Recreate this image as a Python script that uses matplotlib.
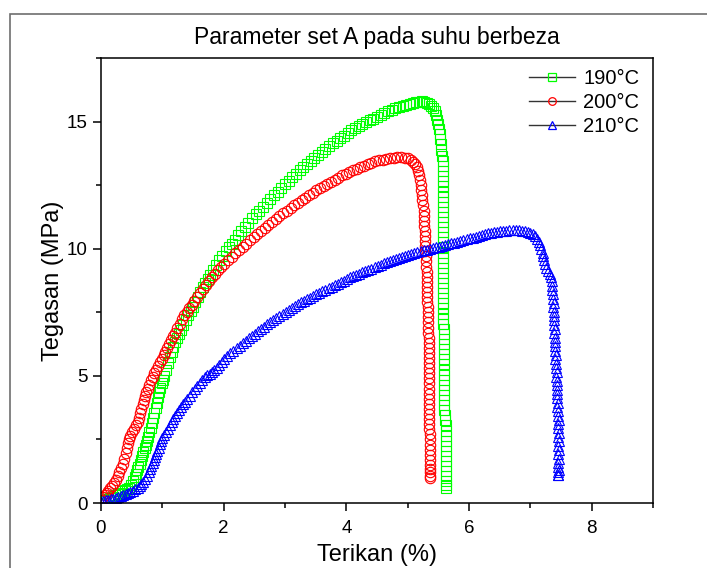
import numpy as np
import matplotlib
matplotlib.use("Agg")
import matplotlib.pyplot as plt
from matplotlib.lines import Line2D
from matplotlib.patches import Rectangle
from matplotlib.ticker import MultipleLocator

plt.rcParams["font.family"] = ["Liberation Sans", "DejaVu Sans"]

labels = ["190°C", "200°C", "210°C"]
colors = ["#00ff00", "#ff0000", "#0000ff"]
markers = ["s", "o", "^"]

# (strain %, stress MPa)
pts190 = [
    (0.03, 0.08), (0.07, 0.12), (0.11, 0.16), (0.15, 0.20), (0.19, 0.24), (0.23, 0.30),
    (0.27, 0.35), (0.31, 0.41), (0.35, 0.47), (0.39, 0.51), (0.43, 0.55), (0.46, 0.60),
    (0.49, 0.70), (0.52, 0.85), (0.55, 1.02), (0.57, 1.15), (0.59, 1.28), (0.61, 1.42),
    (0.63, 1.55), (0.65, 1.70), (0.67, 1.85), (0.69, 2.00), (0.71, 2.15), (0.73, 2.30),
    (0.75, 2.45), (0.77, 2.60), (0.79, 2.78), (0.81, 2.95), (0.83, 3.15), (0.85, 3.35),
    (0.87, 3.55), (0.89, 3.75), (0.91, 3.95), (0.93, 4.15), (0.95, 4.35), (0.97, 4.52),
    (0.99, 4.70), (1.01, 4.85), (1.03, 5.00), (1.06, 5.25), (1.09, 5.50), (1.12, 5.75),
    (1.15, 5.95), (1.18, 6.15), (1.21, 6.33), (1.24, 6.50), (1.27, 6.65), (1.30, 6.80),
    (1.34, 7.00), (1.38, 7.20), (1.42, 7.40), (1.46, 7.55), (1.50, 7.72), (1.54, 7.90),
    (1.58, 8.10), (1.62, 8.30), (1.66, 8.48), (1.70, 8.65), (1.74, 8.82), (1.78, 8.98),
    (1.83, 9.18), (1.88, 9.37), (1.93, 9.55), (1.98, 9.73), (2.03, 9.90), (2.08, 10.05),
    (2.13, 10.20), (2.18, 10.35), (2.23, 10.52), (2.28, 10.68), (2.34, 10.85), (2.40, 11.02),
    (2.46, 11.20), (2.52, 11.35), (2.58, 11.50), (2.64, 11.65), (2.70, 11.80), (2.76, 11.95),
    (2.82, 12.10), (2.88, 12.25), (2.94, 12.40), (3.00, 12.55), (3.06, 12.68), (3.12, 12.82),
    (3.18, 12.95), (3.24, 13.08), (3.30, 13.20), (3.36, 13.33), (3.42, 13.46), (3.48, 13.58),
    (3.54, 13.70), (3.60, 13.82), (3.66, 13.94), (3.72, 14.05), (3.78, 14.15), (3.84, 14.25),
    (3.90, 14.35), (3.96, 14.45), (4.02, 14.55), (4.08, 14.65), (4.14, 14.74), (4.20, 14.82),
    (4.26, 14.90), (4.32, 14.98), (4.38, 15.05), (4.44, 15.12), (4.50, 15.19), (4.56, 15.26),
    (4.62, 15.33), (4.68, 15.40), (4.74, 15.46), (4.80, 15.52), (4.86, 15.57), (4.92, 15.62),
    (4.98, 15.66), (5.04, 15.70), (5.09, 15.73), (5.14, 15.76), (5.19, 15.78), (5.23, 15.79),
    (5.27, 15.78), (5.31, 15.75), (5.35, 15.70), (5.38, 15.62), (5.41, 15.52), (5.44, 15.40),
    (5.46, 15.25), (5.48, 15.08), (5.50, 14.90), (5.51, 14.70), (5.52, 14.50), (5.53, 14.30),
    (5.54, 14.10), (5.55, 13.90), (5.56, 13.65),
    (5.57, 13.45), (5.57, 13.25), (5.57, 13.05), (5.57, 12.85), (5.57, 12.65), (5.57, 12.45),
    (5.57, 12.25), (5.57, 12.05), (5.57, 11.85), (5.57, 11.65), (5.57, 11.45), (5.57, 11.25),
    (5.57, 11.05), (5.57, 10.85), (5.57, 10.65), (5.57, 10.45), (5.57, 10.25), (5.57, 10.05),
    (5.57, 9.85), (5.57, 9.65), (5.57, 9.45), (5.57, 9.25), (5.57, 9.05), (5.57, 8.85),
    (5.57, 8.65), (5.57, 8.45), (5.57, 8.25), (5.57, 8.05), (5.58, 7.85), (5.58, 7.65),
    (5.58, 7.45), (5.58, 7.25), (5.58, 7.05),
    (5.59, 6.85), (5.59, 6.65), (5.59, 6.45), (5.59, 6.25), (5.59, 6.05), (5.59, 5.85),
    (5.59, 5.65), (5.59, 5.45), (5.59, 5.25), (5.59, 5.05), (5.60, 4.85), (5.60, 4.65),
    (5.60, 4.45), (5.60, 4.25), (5.60, 4.05), (5.60, 3.85), (5.60, 3.65),
    (5.61, 3.45), (5.61, 3.25), (5.62, 3.05), (5.62, 2.85), (5.62, 2.65), (5.62, 2.45),
    (5.62, 2.25), (5.62, 2.05), (5.62, 1.85), (5.62, 1.65), (5.62, 1.45), (5.62, 1.25),
    (5.62, 1.05), (5.62, 0.85), (5.62, 0.70), (5.62, 0.60),
]

pts200 = [
    (0.00, 0.10), (0.03, 0.22), (0.06, 0.32), (0.09, 0.40), (0.12, 0.48), (0.15, 0.58),
    (0.18, 0.68), (0.21, 0.78), (0.24, 0.90), (0.27, 1.05), (0.30, 1.20), (0.33, 1.38),
    (0.36, 1.55), (0.38, 1.75), (0.40, 1.95), (0.42, 2.15), (0.44, 2.35), (0.46, 2.52),
    (0.48, 2.65), (0.51, 2.80), (0.54, 2.92), (0.57, 3.05), (0.60, 3.20), (0.62, 3.35),
    (0.64, 3.52), (0.66, 3.70), (0.68, 3.88), (0.70, 4.05), (0.72, 4.20), (0.74, 4.35),
    (0.76, 4.50), (0.78, 4.65), (0.81, 4.82), (0.84, 4.97), (0.87, 5.10), (0.90, 5.25),
    (0.93, 5.40), (0.96, 5.55), (0.99, 5.68), (1.02, 5.82), (1.05, 5.95), (1.08, 6.10),
    (1.11, 6.25), (1.14, 6.40), (1.17, 6.55), (1.20, 6.70), (1.24, 6.88), (1.28, 7.05),
    (1.32, 7.22), (1.36, 7.38), (1.40, 7.53), (1.44, 7.67), (1.48, 7.80), (1.52, 7.95),
    (1.56, 8.10), (1.61, 8.27), (1.66, 8.43), (1.71, 8.58), (1.76, 8.73), (1.81, 8.88),
    (1.86, 9.02), (1.91, 9.15), (1.96, 9.28), (2.01, 9.40), (2.07, 9.54), (2.13, 9.68),
    (2.19, 9.82), (2.25, 9.95), (2.31, 10.08), (2.37, 10.20), (2.43, 10.33), (2.49, 10.45),
    (2.55, 10.57), (2.61, 10.69), (2.67, 10.81), (2.73, 10.93), (2.79, 11.05), (2.85, 11.17),
    (2.91, 11.28), (2.97, 11.39), (3.03, 11.50), (3.09, 11.61), (3.15, 11.71), (3.21, 11.81),
    (3.27, 11.91), (3.33, 12.01), (3.39, 12.11), (3.45, 12.20), (3.51, 12.29), (3.57, 12.38),
    (3.63, 12.47), (3.69, 12.56), (3.75, 12.64), (3.81, 12.72), (3.87, 12.80), (3.93, 12.88),
    (3.99, 12.95), (4.05, 13.02), (4.11, 13.09), (4.17, 13.15), (4.23, 13.21), (4.29, 13.27),
    (4.35, 13.33), (4.41, 13.38), (4.47, 13.43), (4.53, 13.47), (4.59, 13.50), (4.65, 13.53),
    (4.71, 13.56), (4.77, 13.58), (4.83, 13.59), (4.89, 13.59), (4.95, 13.58), (5.00, 13.55),
    (5.05, 13.50), (5.09, 13.42), (5.12, 13.32), (5.15, 13.20), (5.17, 13.05), (5.19, 12.88),
    (5.20, 12.70), (5.21, 12.50), (5.22, 12.30), (5.23, 12.10), (5.24, 11.90), (5.25, 11.70),
    (5.26, 11.50), (5.26, 11.30), (5.27, 11.10), (5.27, 10.90), (5.28, 10.70), (5.28, 10.50),
    (5.29, 10.30), (5.29, 10.10), (5.29, 9.90), (5.30, 9.70), (5.30, 9.50), (5.30, 9.30),
    (5.31, 9.10), (5.31, 8.90), (5.31, 8.70), (5.32, 8.50), (5.32, 8.30), (5.32, 8.10),
    (5.32, 7.90), (5.33, 7.70), (5.33, 7.50), (5.33, 7.30), (5.33, 7.10), (5.33, 6.90),
    (5.33, 6.70), (5.34, 6.50), (5.34, 6.30), (5.34, 6.10), (5.34, 5.90), (5.34, 5.70),
    (5.34, 5.50), (5.34, 5.30), (5.34, 5.10), (5.34, 4.90), (5.35, 4.70), (5.35, 4.50),
    (5.35, 4.30), (5.35, 4.10), (5.35, 3.90), (5.35, 3.70), (5.35, 3.50), (5.35, 3.30),
    (5.35, 3.10), (5.35, 2.90), (5.36, 2.70), (5.36, 2.50), (5.36, 2.30), (5.36, 2.10),
    (5.36, 1.90), (5.36, 1.70), (5.36, 1.50), (5.36, 1.35), (5.36, 1.20), (5.36, 1.08),
    (5.36, 1.00),
]

pts210 = [
    (0.00, 0.05), (0.04, 0.08), (0.08, 0.10), (0.12, 0.12), (0.16, 0.15), (0.20, 0.17),
    (0.24, 0.20), (0.28, 0.24), (0.32, 0.28), (0.36, 0.32), (0.40, 0.37), (0.44, 0.41),
    (0.48, 0.45), (0.52, 0.49), (0.56, 0.54), (0.60, 0.59), (0.63, 0.65), (0.66, 0.73),
    (0.69, 0.83), (0.72, 0.95), (0.75, 1.08), (0.78, 1.20), (0.80, 1.32), (0.82, 1.44),
    (0.84, 1.56), (0.86, 1.68), (0.88, 1.80), (0.90, 1.92), (0.92, 2.05), (0.94, 2.18),
    (0.96, 2.32), (0.98, 2.45), (1.00, 2.55), (1.03, 2.68), (1.06, 2.80), (1.09, 2.92),
    (1.12, 3.05), (1.15, 3.18), (1.18, 3.30), (1.21, 3.42), (1.24, 3.55), (1.27, 3.67),
    (1.30, 3.78), (1.33, 3.88), (1.37, 3.98), (1.41, 4.10), (1.45, 4.22), (1.49, 4.35),
    (1.53, 4.48), (1.57, 4.60), (1.61, 4.72), (1.65, 4.85), (1.69, 4.95), (1.73, 5.02),
    (1.77, 5.08), (1.81, 5.15), (1.85, 5.22), (1.89, 5.32), (1.93, 5.44), (1.97, 5.56),
    (2.01, 5.66), (2.06, 5.77), (2.11, 5.88), (2.16, 5.98), (2.21, 6.08), (2.26, 6.18),
    (2.31, 6.28), (2.36, 6.38), (2.41, 6.47), (2.46, 6.57), (2.51, 6.66), (2.56, 6.75),
    (2.61, 6.84), (2.66, 6.93), (2.71, 7.02), (2.76, 7.10), (2.81, 7.19), (2.86, 7.28),
    (2.91, 7.36), (2.96, 7.44), (3.01, 7.52), (3.06, 7.60), (3.11, 7.68), (3.16, 7.75),
    (3.21, 7.82), (3.26, 7.89), (3.31, 7.96), (3.36, 8.02), (3.41, 8.08), (3.46, 8.14),
    (3.51, 8.21), (3.56, 8.27), (3.61, 8.33), (3.66, 8.39), (3.71, 8.45), (3.76, 8.51),
    (3.81, 8.57), (3.86, 8.63), (3.91, 8.69), (3.96, 8.75), (4.01, 8.81), (4.06, 8.87),
    (4.11, 8.92), (4.16, 8.97), (4.21, 9.02), (4.26, 9.07), (4.31, 9.12), (4.36, 9.17),
    (4.41, 9.22), (4.46, 9.27), (4.51, 9.32), (4.56, 9.37), (4.61, 9.42), (4.66, 9.47),
    (4.71, 9.51), (4.76, 9.55), (4.81, 9.59), (4.86, 9.63), (4.91, 9.67), (4.96, 9.71),
    (5.01, 9.75), (5.06, 9.79), (5.11, 9.83), (5.16, 9.87), (5.21, 9.90), (5.26, 9.93),
    (5.31, 9.96), (5.36, 9.99), (5.41, 10.02), (5.46, 10.05), (5.51, 10.08), (5.56, 10.11),
    (5.61, 10.15), (5.66, 10.18), (5.71, 10.21), (5.76, 10.24), (5.81, 10.27), (5.86, 10.31),
    (5.91, 10.34), (5.96, 10.37), (6.01, 10.41), (6.06, 10.44), (6.11, 10.48), (6.16, 10.51),
    (6.21, 10.54), (6.26, 10.57), (6.31, 10.60), (6.36, 10.62), (6.41, 10.64), (6.46, 10.66),
    (6.51, 10.68), (6.56, 10.70), (6.61, 10.71), (6.66, 10.72), (6.71, 10.72), (6.76, 10.72),
    (6.81, 10.72), (6.86, 10.71), (6.91, 10.69), (6.96, 10.67), (7.00, 10.63), (7.04, 10.58),
    (7.08, 10.50), (7.11, 10.40), (7.14, 10.28), (7.16, 10.15), (7.18, 10.00), (7.20, 9.85),
    (7.21, 9.70), (7.22, 9.55), (7.24, 9.40), (7.26, 9.25), (7.29, 9.12), (7.32, 9.00),
    (7.34, 8.88), (7.35, 8.72), (7.36, 8.55), (7.36, 8.38),
    (7.37, 8.20), (7.37, 8.03), (7.38, 7.86), (7.37, 7.69), (7.38, 7.52), (7.39, 7.35),
    (7.38, 7.18), (7.39, 7.01), (7.40, 6.84), (7.39, 6.67), (7.40, 6.50), (7.41, 6.33),
    (7.40, 6.16), (7.41, 5.99), (7.42, 5.82), (7.41, 5.65), (7.42, 5.48), (7.42, 5.31),
    (7.43, 5.14), (7.42, 4.97), (7.43, 4.80), (7.44, 4.63), (7.43, 4.46), (7.44, 4.29),
    (7.44, 4.12), (7.45, 3.95), (7.44, 3.78), (7.45, 3.61), (7.45, 3.44), (7.46, 3.27),
    (7.45, 3.10), (7.45, 2.93), (7.46, 2.76), (7.45, 2.59), (7.46, 2.42), (7.45, 2.25),
    (7.46, 2.08), (7.45, 1.91), (7.46, 1.74), (7.45, 1.57), (7.45, 1.42), (7.46, 1.30),
    (7.45, 1.20), (7.45, 1.12), (7.45, 1.10),
]

series = [pts190, pts200, pts210]
msizes = [6.8, 7.5, 7.3]

fig = plt.figure(figsize=(7.07, 5.68), dpi=100)
ax = fig.add_axes([101 / 707, 1 - 503 / 568, 552 / 707, 445 / 568])

# outer frame of the original page (cut off on the right and bottom)
fig.patches.append(Rectangle((10 / 707, -0.1), 1.2, 1.1 - 14 / 568, transform=fig.transFigure,
                             fill=False, ec="#6e6e6e", lw=1.2))

for pts, c, m, ms in zip(series, colors, markers, msizes):
    xs, ys = np.array(pts).T
    ax.plot(xs, ys, ls="none", marker=m, ms=ms, mfc="none", mec=c, mew=0.8)

ax.set_xlim(0, 9)
ax.set_ylim(0, 17.5)
ax.xaxis.set_major_locator(MultipleLocator(2))
ax.xaxis.set_minor_locator(MultipleLocator(1))
ax.yaxis.set_major_locator(MultipleLocator(5))
ax.yaxis.set_minor_locator(MultipleLocator(2.5))
ax.tick_params(which="both", direction="out", width=1.1, labelsize=13.5, top=False, right=False)
ax.tick_params(which="major", length=6)
ax.tick_params(which="minor", length=3.5)
ax.tick_params(axis="x", which="major", pad=6.5)
for s in ax.spines.values():
    s.set_linewidth(1.1)

ax.set_title("Parameter set A pada suhu berbeza", fontsize=16.5, pad=10)
ax.set_xlabel("Terikan (%)", fontsize=17, labelpad=5)
ax.set_ylabel("Tegasan (MPa)", fontsize=17, labelpad=2)

handles = [Line2D([], [], color="#333333", lw=1.0, marker=m, ms=5.5, mfc="none", mec=c, mew=0.9)
           for c, m in zip(colors, markers)]
ax.legend(handles, labels, loc="upper right", bbox_to_anchor=(0.975, 0.976), frameon=False,
          fontsize=14.5, handlelength=2.3, handletextpad=0.4, labelspacing=0.25,
          borderpad=0, borderaxespad=0)

fig.savefig("out.png", dpi=100)
